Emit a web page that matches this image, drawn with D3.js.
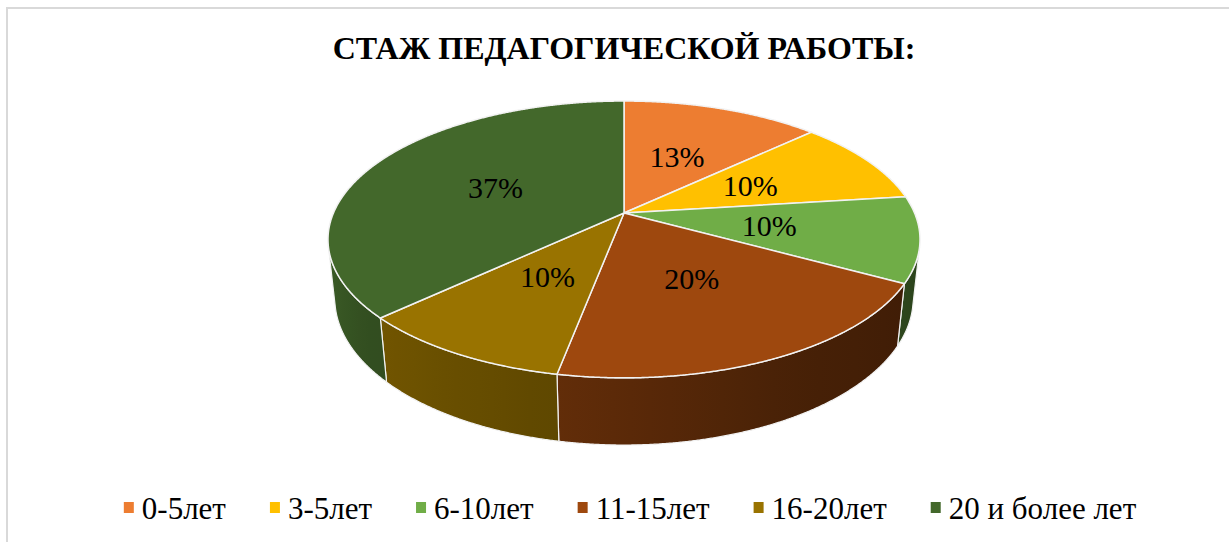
<!DOCTYPE html>
<html>
<head>
<meta charset="utf-8">
<script src="https://cdn.jsdelivr.net/npm/d3@7"></script>
<style>
  body { margin: 0; background: #fff; }
</style>
</head>
<body>
<div id="vis"></div>
<script>
// Data
const categories = ['0-5лет', '3-5лет', '6-10лет', '11-15лет', '16-20лет', '20 и более лет'];
const values = [13, 10, 10, 20, 10, 37];
const labels = ['13%', '10%', '10%', '20%', '10%', '37%'];
const colors = ['#ED7D31', '#FFC000', '#70AD47', '#9E480E', '#997300', '#43682B'];
const title = 'СТАЖ ПЕДАГОГИЧЕСКОЙ РАБОТЫ:';

const font = "'Liberation Serif', 'DejaVu Serif', serif";

// SVG canvas variables
const width = 1229;
const height = 542;

const svg = d3.select('#vis').append('svg')
    .attr('width', width)
    .attr('height', height)
    .style('font-family', font);

// chart frame (only top and left edges fall inside the window)
svg.append('rect')
    .attr('x', 7).attr('y', 8)
    .attr('width', width).attr('height', height)
    .attr('fill', 'none')
    .attr('stroke', '#d9d9d9')
    .attr('stroke-width', 2);

svg.append('text')
    .attr('x', 624).attr('y', 59)
    .attr('text-anchor', 'middle')
    .attr('font-family', font)
    .attr('font-size', 32)
    .attr('font-weight', 'bold')
    .attr('fill', '#000')
    .text(title);

// 3D perspective setup: disk radius 1, seen from above at angle phi
const cx = 624, cy = 213;
const D = 4.65;          // camera distance
const F = 1351;          // focal length in px
const phi = Math.asin(0.459);
const H = 0.231;         // pie thickness

function project(theta, r, y) {
    const X = r * Math.sin(theta), Z = -r * Math.cos(theta);
    const d = D - (Z * Math.cos(phi) + y * Math.sin(phi));
    const u = y * Math.cos(phi) - Z * Math.sin(phi);
    return [cx + F * X / d, cy - F * u / d];
}

function arcPts(a0, a1, r, y) {
    const n = Math.max(2, Math.ceil(Math.abs(a1 - a0) / 0.004));
    return d3.range(n + 1).map(i => project(a0 + (a1 - a0) * i / n, r, y));
}

const pie = d3.pie().sort(null).value(d => d);
const arcs = pie(values);

const line = d3.line();
const defs = svg.append('defs');

// visible range of the outer wall
const thA = Math.acos(-1 / (D * Math.cos(phi)));
const thB = 2 * Math.PI - thA;

// side shading, darker on the right
const shade = d3.scaleLinear()
    .domain([thA, 150 * Math.PI / 180, 190 * Math.PI / 180, 230 * Math.PI / 180, thB])
    .range([0.38, 0.45, 0.62, 0.75, 0.9])
    .clamp(true);

function darken(c, k) {
    const rgb = d3.rgb(c);
    return d3.rgb(rgb.r * k, rgb.g * k, rgb.b * k).formatHex();
}

const sides = svg.append('g');
arcs.forEach((a, i) => {
    const s = Math.max(a.startAngle, thA), e = Math.min(a.endAngle, thB);
    if (e <= s) return;
    const x1 = project(s, 1, 0)[0], x2 = project(e, 1, 0)[0];
    const grad = defs.append('linearGradient')
        .attr('id', 'side' + i)
        .attr('gradientUnits', 'userSpaceOnUse')
        .attr('x1', x1).attr('x2', x2).attr('y1', 0).attr('y2', 0);
    d3.range(9).forEach(j => {
        const t = s + (e - s) * j / 8;
        grad.append('stop')
            .attr('offset', (project(t, 1, 0)[0] - x1) / (x2 - x1))
            .attr('stop-color', darken(colors[i], shade(t)));
    });
    const pts = arcPts(s, e, 1, 0).concat(arcPts(e, s, 1, -H));
    sides.append('path')
        .attr('d', line(pts) + 'Z')
        .attr('fill', 'url(#side' + i + ')')
        .attr('stroke', '#f2f2f2')
        .attr('stroke-width', 1.2)
        .attr('stroke-linejoin', 'round');
});

// top faces
const tops = svg.append('g');
arcs.forEach((a, i) => {
    const pts = [project(0, 0, 0)].concat(arcPts(a.startAngle, a.endAngle, 1, 0));
    tops.append('path')
        .attr('d', line(pts) + 'Z')
        .attr('fill', colors[i])
        .attr('stroke', '#f2f2f2')
        .attr('stroke-width', 1.5)
        .attr('stroke-linejoin', 'round');
});

// data labels
const labelSize = 30;
svg.append('g').selectAll('text')
    .data(arcs)
    .join('text')
    .attr('x', d => project((d.startAngle + d.endAngle) / 2, 0.5, 0)[0])
    .attr('y', d => project((d.startAngle + d.endAngle) / 2, 0.5, 0)[1] + labelSize * 0.34)
    .attr('text-anchor', 'middle')
    .attr('font-family', font)
    .attr('font-size', labelSize)
    .attr('fill', '#000')
    .text((d, i) => labels[i]);

// legend
const legendSize = 31;
const legend = svg.append('g');
const items = categories.map((c, i) => {
    const g = legend.append('g');
    g.append('rect')
        .attr('x', 0).attr('y', 502)
        .attr('width', 10).attr('height', 11)
        .attr('fill', colors[i]);
    const t = g.append('text')
        .attr('x', 18).attr('y', 519)
        .attr('font-family', font)
        .attr('font-size', legendSize)
        .attr('fill', '#000')
        .text(c);
    return {g: g, w: 18 + t.node().getComputedTextLength()};
});
const gap = 44;
const total = d3.sum(items, d => d.w) + gap * (items.length - 1);
let xPos = 630 - total / 2;
items.forEach(d => {
    d.g.attr('transform', `translate(${xPos},0)`);
    xPos += d.w + gap;
});
</script>
</body>
</html>
